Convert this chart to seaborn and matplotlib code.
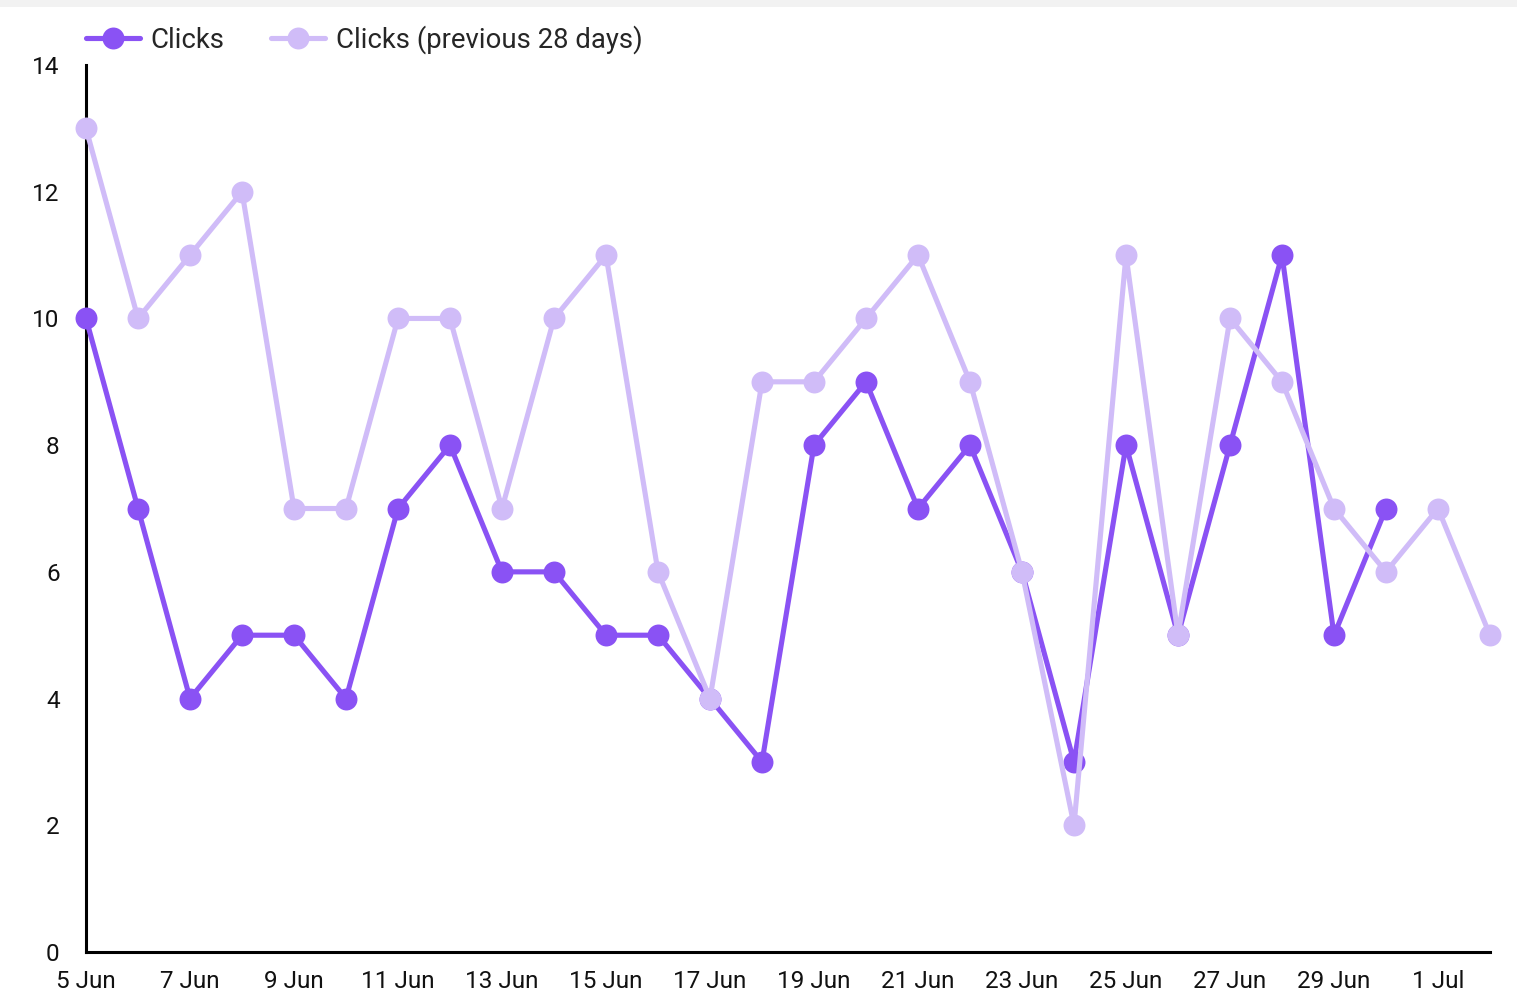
import pandas as pd
import matplotlib.pyplot as plt
import matplotlib.dates as mdates
from matplotlib.patches import Rectangle
import seaborn as sns

sns.set_theme(style="white")
plt.rcParams['font.family'] = ['Roboto', 'DejaVu Sans']

# data
clicks = [10, 7, 4, 5, 5, 4, 7, 8, 6, 6, 5, 5, 4, 3, 8, 9, 7, 8, 6, 3, 8, 5, 8, 11, 5, 7]
clicks_prev = [13, 10, 11, 12, 7, 7, 10, 10, 7, 10, 11, 6, 4, 9, 9, 10, 11, 9, 6, 2, 11, 5, 10, 9, 7, 6, 7, 5]
start_date = "2024-06-05"
y_ticks = [0, 2, 4, 6, 8, 10, 12, 14]

dates_all = pd.date_range(start_date, periods=len(clicks_prev), freq="D")
df_cur = pd.DataFrame({"date": dates_all[:len(clicks)], "value": clicks})
df_prev = pd.DataFrame({"date": dates_all, "value": clicks_prev})

dark = "#8a52f4"
light = "#d0bcf8"

fig = plt.figure(figsize=(15.17, 10.01), dpi=100)
ax = fig.add_axes([0.0567, 0.049, 0.9255, 0.886])
fig.patches.append(Rectangle((0, 0.993), 1, 0.007, transform=fig.transFigure,
                             facecolor="#f2f2f2", edgecolor="none"))

sns.lineplot(data=df_cur, x="date", y="value", ax=ax, color=dark, linewidth=3.7,
             marker="o", markersize=15.8, markeredgewidth=0, label="Clicks",
             clip_on=False, zorder=3)
sns.lineplot(data=df_prev, x="date", y="value", ax=ax, color=light, linewidth=3.7,
             marker="o", markersize=15.8, markeredgewidth=0,
             label="Clicks (previous 28 days)", clip_on=False, zorder=4)

ax.set_xlim(dates_all[0], dates_all[-1])
ax.set_ylim(0, 14)
ax.set_yticks(y_ticks)
ax.set_xticks(dates_all[::2])
ax.xaxis.set_major_formatter(mdates.DateFormatter("%-d %b"))
ax.set_xlabel("")
ax.set_ylabel("")
ax.tick_params(axis="both", length=0, labelsize=17.5, colors="#111111")
ax.tick_params(axis="y", pad=19)
ax.tick_params(axis="x", pad=13)

for side in ["top", "right"]:
    ax.spines[side].set_visible(False)
for side in ["left", "bottom"]:
    ax.spines[side].set_color("black")
    ax.spines[side].set_linewidth(2.2)

ax.legend(loc="center left", bbox_to_anchor=(0.0567, 0.96), bbox_transform=fig.transFigure,
          ncol=2, frameon=False, fontsize=19.8, handlelength=1.95, handletextpad=0.4,
          columnspacing=1.7, borderaxespad=0, borderpad=0)

fig.savefig("out.png", dpi=100)
